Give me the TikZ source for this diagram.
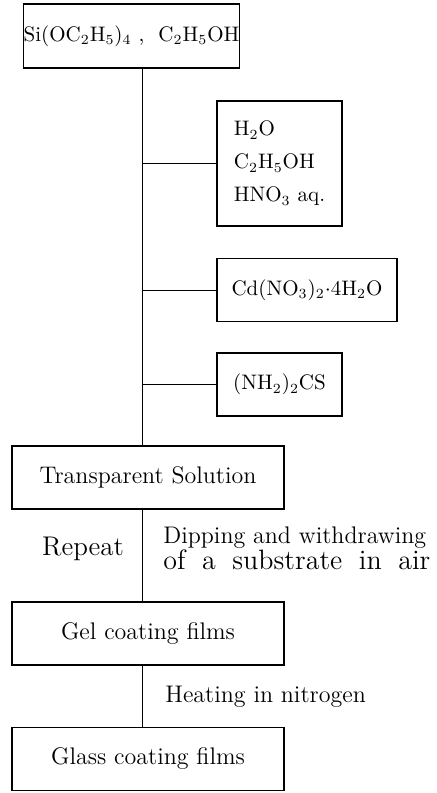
\documentclass[tikz,border=0pt]{standalone}
\usepackage{amsmath}
\usetikzlibrary{positioning,calc}

\begin{document}
\begin{tikzpicture}[x=0.5pt,y=-0.5pt,
  bx/.style={draw,line width=0.8pt,inner sep=0pt,align=center,font=\fontsize{12}{14}\selectfont},
  chem/.style={bx,font=\fontsize{10.5}{13}\selectfont},
  lbl/.style={inner sep=0pt,font=\fontsize{12}{14}\selectfont}]
  \useasboundingbox (0,0) rectangle (436,793);
  \coordinate (sp) at (142,0);
  \node[chem,minimum width=101.5pt,minimum height=32pt] (src) at (131.5,36) {Si(OC$_2$H$_5$)$_4$\ ,\ \ C$_2$H$_5$OH};
  \node[chem,minimum width=62.5pt,minimum height=62.5pt,align=left] (mix) at (279.5,163.5) {H$_2$O\\[3.5pt]C$_2$H$_5$OH\\[3.5pt]HNO$_3$ aq.};
  \node[chem,minimum width=90pt,minimum height=31.5pt] (cd) at (307,290) {Cd(NO$_3$)$_2$$\cdot$4H$_2$O};
  \node[chem,minimum width=62.5pt,minimum height=31.5pt] (tu) at (279.5,384.5) {(NH$_2$)$_2$CS};
  \node[bx,minimum width=136pt,minimum height=31.5pt] (sol) at (148,477.5) {Transparent Solution};
  \node[bx,minimum width=136pt,minimum height=31.5pt] (gel) at (148,633.5) {Gel coating films};
  \node[bx,minimum width=136pt,minimum height=31.5pt] (glass) at (148,759) {Glass coating films};
  \node[lbl,font=\fontsize{13.5}{14}\selectfont] (rep) at (83,549) {Repeat};
  \node[lbl,anchor=west,align=left] (dip) at (163,548) {Dipping and withdrawing\\[-1pt]{\fontsize{14}{15}\selectfont\makebox[133.5pt][s]{of a substrate in air}}};
  \node[lbl,anchor=west] (heat) at (165,697) {Heating in nitrogen};
  \draw[line width=0.5pt] (src.south -| sp) -- (sol.north -| sp);
  \draw[line width=0.5pt] (mix.west -| sp) -- (mix.west);
  \draw[line width=0.5pt] (cd.west -| sp) -- (cd.west);
  \draw[line width=0.5pt] (tu.west -| sp) -- (tu.west);
  \draw[line width=0.5pt] (sol.south -| sp) -- (gel.north -| sp);
  \draw[line width=0.5pt] (gel.south -| sp) -- (glass.north -| sp);
\end{tikzpicture}
\end{document}
